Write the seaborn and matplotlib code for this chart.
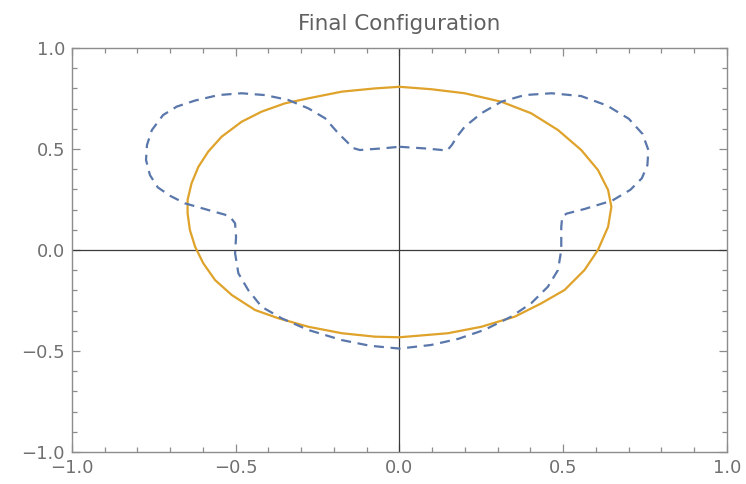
import matplotlib
matplotlib.use("Agg")
import matplotlib.pyplot as plt
from matplotlib.ticker import MultipleLocator, FuncFormatter
import pandas as pd
import seaborn as sns

# Boundary of the initial (dashed) shape, traced clockwise from the top centre
shape_x = [0.000, 0.077, 0.124, 0.145, 0.160, 0.175, 0.199, 0.250, 0.311, 0.382,
           0.464, 0.555, 0.634, 0.700, 0.742, 0.760, 0.757, 0.740, 0.705, 0.650,
           0.565, 0.510, 0.497, 0.494, 0.494, 0.484, 0.453, 0.402, 0.341, 0.260,
           0.179, 0.097, 0.000,
           -0.090, -0.176, -0.278, -0.360, -0.421, -0.462, -0.492, -0.502, -0.499,
           -0.502, -0.515, -0.533, -0.584, -0.655, -0.700, -0.738, -0.762, -0.774,
           -0.771, -0.756, -0.722, -0.680, -0.624, -0.553, -0.482, -0.411, -0.340,
           -0.278, -0.227, -0.187, -0.160, -0.142, -0.121, -0.054, 0.000]
shape_y = [0.511, 0.503, 0.496, 0.492, 0.520, 0.560, 0.610, 0.677, 0.734, 0.767,
           0.776, 0.762, 0.715, 0.650, 0.575, 0.495, 0.420, 0.355, 0.298, 0.245,
           0.203, 0.180, 0.165, 0.115, 0.000, -0.099, -0.182, -0.264, -0.330, -0.395,
           -0.440, -0.470, -0.488,
           -0.474, -0.446, -0.396, -0.338, -0.281, -0.198, -0.115, -0.016, 0.066,
           0.132, 0.160, 0.175, 0.198, 0.231, 0.268, 0.310, 0.371, 0.446,
           0.520, 0.594, 0.668, 0.710, 0.740, 0.767, 0.776, 0.767, 0.743,
           0.701, 0.652, 0.578, 0.535, 0.505, 0.495, 0.503, 0.511]

# Boundary of the final (solid) configuration, clockwise from the top centre
final_x = [0.000, 0.097, 0.199, 0.311, 0.402, 0.484, 0.555, 0.606, 0.637, 0.647,
           0.637, 0.606, 0.565, 0.504, 0.433, 0.352, 0.250, 0.148, 0.000,
           -0.075, -0.176, -0.278, -0.370, -0.441, -0.512, -0.563, -0.599, -0.624,
           -0.640, -0.647, -0.647, -0.635, -0.614, -0.584, -0.543, -0.482, -0.421,
           -0.350, -0.278, -0.176, -0.075, 0.000]
final_y = [0.808, 0.796, 0.776, 0.734, 0.677, 0.594, 0.495, 0.396, 0.297, 0.214,
           0.115, 0.000, -0.099, -0.198, -0.264, -0.330, -0.380, -0.412, -0.432,
           -0.429, -0.412, -0.380, -0.338, -0.297, -0.223, -0.149, -0.066, 0.016,
           0.099, 0.182, 0.248, 0.330, 0.412, 0.487, 0.561, 0.635, 0.685,
           0.726, 0.751, 0.784, 0.800, 0.808]

tick_values = [-1.0, -0.5, 0.0, 0.5, 1.0]

sns.set_style("white")
plt.rcParams["font.family"] = ["DejaVu Sans"]

fig = plt.figure(figsize=(7.46, 4.84), dpi=100)
ax = fig.add_axes([0.0965, 0.0661, 0.878, 0.8347])

frame_grey = "#8c8c8c"
text_grey = "#707070"

# reference axes through the origin
ax.axhline(0, color="#3a3a3a", lw=0.9, zorder=1)
ax.axvline(0, color="#3a3a3a", lw=0.9, zorder=1)

shape_df = pd.DataFrame({"x": shape_x, "y": shape_y})
final_df = pd.DataFrame({"x": final_x, "y": final_y})

sns.lineplot(data=shape_df, x="x", y="y", sort=False, estimator=None, ax=ax,
             color="#5A77AB", lw=1.6, zorder=3)
ax.lines[-1].set_dashes((4.5, 3.0))
ax.lines[-1].set_solid_joinstyle("round")
sns.lineplot(data=final_df, x="x", y="y", sort=False, estimator=None, ax=ax,
             color="#DFA22A", lw=1.6, zorder=2)
ax.lines[-1].set_solid_joinstyle("round")

ax.set_xlim(-1, 1)
ax.set_ylim(-1, 1)
ax.set_xlabel("")
ax.set_ylabel("")

for s in ax.spines.values():
    s.set_color(frame_grey)
    s.set_linewidth(1.0)
    s.set_visible(True)

fmt = FuncFormatter(lambda v, pos: f"{v:.1f}".replace("-", "\u2212"))
ax.set_xticks(tick_values)
ax.set_yticks(tick_values)
ax.xaxis.set_minor_locator(MultipleLocator(0.1))
ax.yaxis.set_minor_locator(MultipleLocator(0.1))
ax.xaxis.set_major_formatter(fmt)
ax.yaxis.set_major_formatter(fmt)
ax.tick_params(which="both", direction="in", top=True, right=True,
               bottom=True, left=True, color=frame_grey, width=0.9)
ax.tick_params(which="major", length=6, labelsize=13, labelcolor=text_grey, pad=5)
ax.tick_params(which="minor", length=3.5)

ax.set_title("Final Configuration", fontsize=15.5, color="#606060", pad=13)

fig.savefig("out.png", dpi=100)
